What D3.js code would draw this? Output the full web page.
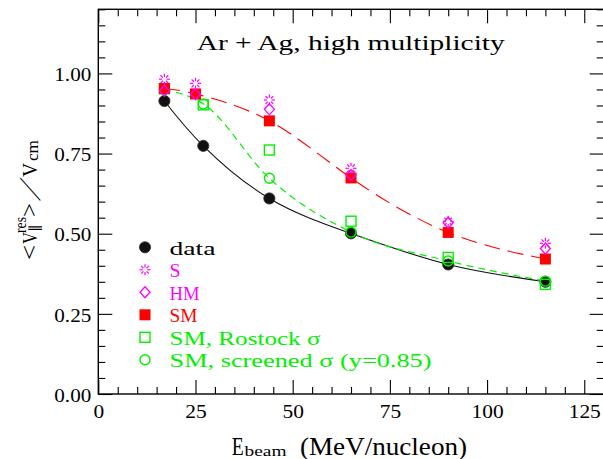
<!DOCTYPE html>
<html><head><meta charset="utf-8">
<script src="https://cdn.jsdelivr.net/npm/d3@7"></script>
<style>body{margin:0;background:#fff;overflow:hidden;} svg{display:block;}</style>
</head><body><svg id="c" width="603" height="459"></svg>
<script>
// ---- data ----
const energyData = [17, 27, 44, 65, 90, 115];
const dataVals   = [0.914, 0.774, 0.610, 0.501, 0.404, 0.350];
const energyModel = [17, 25, 44, 65, 90, 115];
const sVals  = [0.982, 0.969, 0.917, 0.704, 0.538, 0.470];
const hmVals = [0.946, 0.935, 0.888, 0.683, 0.534, 0.454];
const smVals = [0.953, 0.936, 0.852, 0.674, 0.504, 0.421];
const energyGreen = [17, 27, 44, 65, 90, 115];
const rostockVals  = [0.952, 0.902, 0.761, 0.539, 0.426, 0.342];
const screenedVals = [0.950, 0.905, 0.673, 0.505, 0.415, 0.352];
const xTicks = [0, 25, 50, 75, 100, 125];
const yTicks = [0, 0.25, 0.5, 0.75, 1.0];
const legendLabels = ["data", "S", "HM", "SM", "SM, Rostock \u03c3", "SM, screened \u03c3 (y=0.85)"];
const titleText = "Ar + Ag, high multiplicity";

const MAG = "#ff00ff", RED = "#ff0000", GRN = "#00f000", BLK = "#111111";
const FONT = "Liberation Serif";

const svg = d3.select('#c');
const x = d3.scaleLinear().domain([0, 130]).range([98.3, 603.7]);
const y = d3.scaleLinear().domain([0, 1.2]).range([394, 9.3]);

// ---- axes ----
const minorX = d3.range(0, 131, 5).filter(v => v % 25 !== 0);
const minorY = d3.range(0, 1.201, 0.05).filter(v => Math.abs(v / 0.25 - Math.round(v / 0.25)) > 1e-6);

function styleAxis(g) {
  g.select('.domain').remove();
  g.selectAll('line').attr('stroke', '#000').attr('stroke-width', 1.1);
  g.selectAll('text').attr('font-family', FONT).attr('font-size', 19).attr('fill', '#000');
}
// bottom
const xb = svg.append('g').attr('transform', `translate(0,${y(0)})`)
  .call(d3.axisBottom(x).tickValues(xTicks).tickSize(-14).tickPadding(11).tickFormat(d3.format('d'))).call(styleAxis);
xb.selectAll('text').each(function() {
  const n = this.textContent.length;
  d3.select(this).attr('textLength', n * 10.7).attr('lengthAdjust', 'spacingAndGlyphs');
});
svg.append('g').attr('transform', `translate(0,${y(0)})`)
  .call(d3.axisBottom(x).tickValues(minorX).tickSize(-7).tickFormat('')).call(styleAxis);
// top
svg.append('g').attr('transform', `translate(0,${y(1.2)})`)
  .call(d3.axisTop(x).tickValues(xTicks).tickSize(-14).tickFormat('')).call(styleAxis);
svg.append('g').attr('transform', `translate(0,${y(1.2)})`)
  .call(d3.axisTop(x).tickValues(minorX).tickSize(-7).tickFormat('')).call(styleAxis);
// left
const yl = svg.append('g').attr('transform', `translate(${x(0)},0)`)
  .call(d3.axisLeft(y).tickValues(yTicks).tickSize(-14).tickPadding(7).tickFormat(d3.format('.2f'))).call(styleAxis);
yl.selectAll('text').attr('dy', '0.38em').attr('textLength', 37).attr('lengthAdjust', 'spacingAndGlyphs');
svg.append('g').attr('transform', `translate(${x(0)},0)`)
  .call(d3.axisLeft(y).tickValues(minorY).tickSize(-7).tickFormat('')).call(styleAxis);
// right
svg.append('g').attr('transform', `translate(${x(130)},0)`)
  .call(d3.axisRight(y).tickValues(yTicks).tickSize(-14).tickFormat('')).call(styleAxis);
svg.append('g').attr('transform', `translate(${x(130)},0)`)
  .call(d3.axisRight(y).tickValues(minorY).tickSize(-7).tickFormat('')).call(styleAxis);

// frame
svg.append('rect').attr('x', x(0)).attr('y', y(1.2)).attr('width', x(130) - x(0)).attr('height', y(0) - y(1.2))
  .attr('fill', 'none').attr('stroke', '#000').attr('stroke-width', 1.4);

// ---- curves ----
const zip = (xs, ys) => xs.map((v, i) => [v, ys[i]]);
const line = d3.line().x(d => x(d[0])).y(d => y(d[1]));
svg.append('path').datum(zip(energyData, dataVals))
  .attr('d', line.curve(d3.curveNatural)).attr('fill', 'none').attr('stroke', BLK).attr('stroke-width', 1.1);
svg.append('path').datum(zip(energyModel, smVals))
  .attr('d', line.curve(d3.curveNatural)).attr('fill', 'none').attr('stroke', RED).attr('stroke-width', 1.1)
  .attr('stroke-dasharray', '16,8');
svg.append('path').datum(zip(energyGreen, screenedVals))
  .attr('d', line.curve(d3.curveMonotoneX)).attr('fill', 'none').attr('stroke', GRN).attr('stroke-width', 1.2)
  .attr('stroke-dasharray', '7,5');

// ---- marker drawers ----
function drawCircleFilled(g, cx, cy) {
  g.append('circle').attr('cx', cx).attr('cy', cy).attr('r', 5.6).attr('fill', BLK).attr('stroke', '#333').attr('stroke-width', 0.8);
}
function drawSquareFilled(g, cx, cy) {
  g.append('rect').attr('x', cx - 5.5).attr('y', cy - 5.5).attr('width', 11).attr('height', 11).attr('fill', RED);
}
function drawSquareOpen(g, cx, cy) {
  g.append('rect').attr('x', cx - 5).attr('y', cy - 5).attr('width', 10).attr('height', 10)
    .attr('fill', 'none').attr('stroke', GRN).attr('stroke-width', 1.4);
}
function drawCircleOpen(g, cx, cy) {
  g.append('circle').attr('cx', cx).attr('cy', cy).attr('r', 5).attr('fill', 'none').attr('stroke', GRN).attr('stroke-width', 1.4);
}
function drawDiamond(g, cx, cy) {
  g.append('path').attr('d', `M${cx},${cy - 5.5}L${cx + 5},${cy}L${cx},${cy + 5.5}L${cx - 5},${cy}Z`)
    .attr('fill', 'none').attr('stroke', MAG).attr('stroke-width', 1.3);
}
function drawBurst(g, cx, cy) {
  for (let k = 0; k < 8; k++) {
    const a = k * Math.PI / 4;
    g.append('line')
      .attr('x1', cx + 2.2 * Math.cos(a)).attr('y1', cy + 2.2 * Math.sin(a))
      .attr('x2', cx + 5.5 * Math.cos(a)).attr('y2', cy + 5.5 * Math.sin(a))
      .attr('stroke', MAG).attr('stroke-width', 1.2);
  }
}

const marks = svg.append('g');
energyData.forEach((e, i) => drawCircleFilled(marks, x(e), y(dataVals[i])));
energyGreen.forEach((e, i) => drawSquareOpen(marks, x(e), y(rostockVals[i])));
energyGreen.forEach((e, i) => drawCircleOpen(marks, x(e), y(screenedVals[i])));
energyModel.forEach((e, i) => drawSquareFilled(marks, x(e), y(smVals[i])));
energyModel.forEach((e, i) => drawDiamond(marks, x(e), y(hmVals[i])));
energyModel.forEach((e, i) => drawBurst(marks, x(e), y(sVals[i])));

// ---- title ----
svg.append('text').attr('x', 196.7).attr('y', 50).text(titleText)
  .attr('font-family', FONT).attr('font-size', 22).attr('fill', '#000')
  .attr('textLength', 308).attr('lengthAdjust', 'spacingAndGlyphs');

// ---- legend ----
const legRows = [247.3, 269.8, 292.3, 314.8, 337.3, 359.8];
const legWidths = [46, 11, 30, 28, 151, 262];
const legDraw = [drawCircleFilled, drawBurst, drawDiamond, drawSquareFilled, drawSquareOpen, drawCircleOpen];
const legColors = ["#000", MAG, MAG, RED, GRN, GRN];
const leg = svg.append('g');
legendLabels.forEach((t, i) => {
  legDraw[i](leg, 145, legRows[i]);
  leg.append('text').attr('x', 169.5).attr('y', legRows[i] + 7.5).text(t)
    .attr('font-family', FONT).attr('font-size', 19.5).attr('fill', legColors[i])
    .attr('textLength', legWidths[i]).attr('lengthAdjust', 'spacingAndGlyphs');
});

// ---- x axis title ----
const xt = svg.append('g').attr('font-family', FONT).attr('fill', '#000');
xt.append('text').attr('x', 231.7).attr('y', 455).attr('font-size', 25).text('E')
  .attr('textLength', 12).attr('lengthAdjust', 'spacingAndGlyphs');
xt.append('text').attr('x', 244.5).attr('y', 456).attr('font-size', 15).text('beam')
  .attr('textLength', 42).attr('lengthAdjust', 'spacingAndGlyphs');
xt.append('text').attr('x', 300).attr('y', 455).attr('font-size', 25).text('(MeV/nucleon)')
  .attr('textLength', 167).attr('lengthAdjust', 'spacingAndGlyphs');

// ---- y axis title (rotated) ----
const yt = svg.append('g').attr('transform', 'translate(36.7,201) rotate(-90)')
  .attr('font-family', FONT).attr('fill', '#000');
const yParts = [
  {t: '<', x: -59, y: 0, s: 23, w: 15},
  {t: 'V', x: -43, y: 0, s: 22, w: 12},
  {t: 'res', x: -32, y: -10.5, s: 16, w: 16},
  {t: '\u2225', x: -31, y: 2.5, s: 14, w: 8},
  {t: '>', x: -16, y: 0, s: 23, w: 14},
  {t: 'V', x: 24, y: 0, s: 22, w: 14},
  {t: 'cm', x: 40, y: 1.5, s: 17, w: 21}
];
yParts.forEach(p => {
  const tx = yt.append('text').attr('x', p.x).attr('y', p.y).attr('font-size', p.s).text(p.t);
  if (p.w) tx.attr('textLength', p.w).attr('lengthAdjust', 'spacingAndGlyphs');
});
// slanted solidus: thin glyph, skewed rather than stretched
yt.append('text').attr('transform', 'translate(0,3) skewX(-38)').attr('font-size', 30).text('/');
</script></body></html>
